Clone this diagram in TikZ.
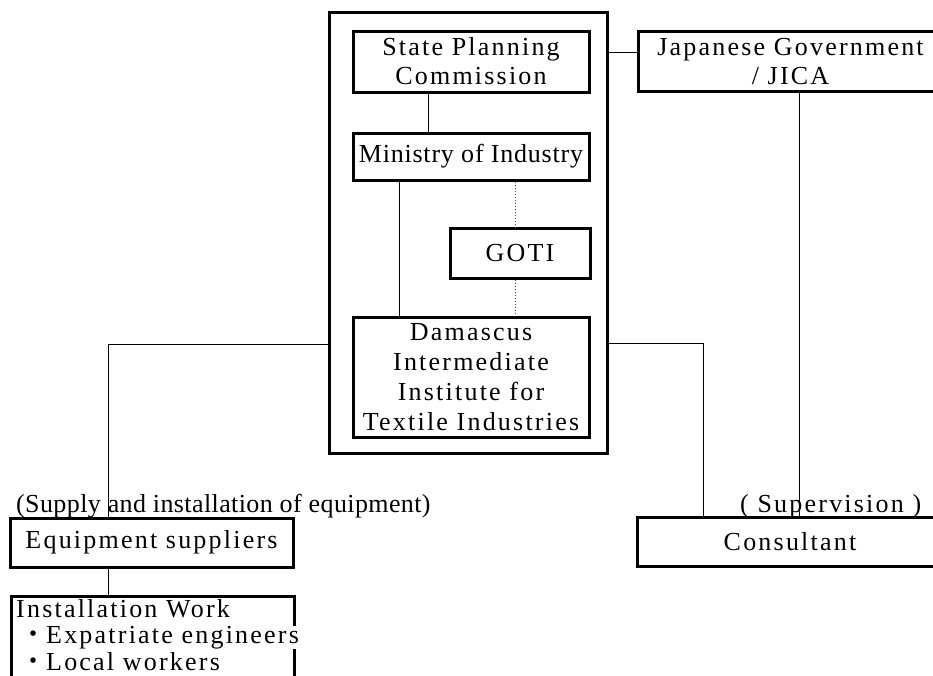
\documentclass[tikz,border=0pt]{standalone}
\usepackage{fontspec}
\setmainfont{Liberation Serif}[LetterSpace=1.5]
\newfontfamily\widefont{Liberation Serif}[LetterSpace=8.5]
\newfontfamily\midfont{Liberation Serif}[LetterSpace=3]
\newfontfamily\cjk{Noto Sans CJK JP}
\usepackage{tikz}
\tikzstyle{box}=[draw, line width=3pt, align=center, inner sep=0pt, font=\fontsize{26}{29}\selectfont\widefont]
\tikzstyle{frame}=[draw, line width=3pt, inner sep=0pt]
\tikzstyle{note}=[inner sep=0pt, font=\fontsize{26}{29}\selectfont]
\tikzstyle{widenote}=[inner sep=0pt, font=\fontsize{26}{29}\selectfont\widefont]
\tikzstyle{link}=[draw=black, line width=1pt]
\tikzstyle{dotlink}=[draw=black!70, line width=1pt, dotted]

\begin{document}
\begin{tikzpicture}[x=1pt, y=-1pt]
		\useasboundingbox (0,0) rectangle (933,675);
		\begin{scope}
			\node (syria) at (468, 232.5)[frame, minimum width=278, minimum height=441] {};
			\node (spc) at (471, 61.5)[box, minimum width=236, minimum height=61] {State Planning\\Commission};
			\node (moi) at (471, 156.5)[box, minimum width=236, minimum height=47, font=\fontsize{26}{29}\selectfont\midfont] {Ministry of Industry};
			\node (goti) at (520, 253.5)[box, minimum width=140, minimum height=50] {GOTI};
			\node (diitt) at (471, 377.5)[box, minimum width=236, minimum height=120, font=\fontsize{26}{30}\selectfont\widefont] {Damascus\\Intermediate\\Institute for\\Textile Industries};
			\node (jica) at (790.5, 61.5)[box, minimum width=305, minimum height=60] {Japanese Government\\/ JICA};
			\node (eqsup) at (151.5, 542.5)[box, minimum width=283, minimum height=49] {Equipment suppliers};
			\node (cons) at (790, 541.5)[box, minimum width=306, minimum height=49] {Consultant};
			\node (inst) at (10, 595)[frame, anchor=north west, minimum width=283, minimum height=100] {};
			\node (inst1) at (16, 617)[widenote, anchor=base west] {Installation Work};
			\node (inst2) at (20, 643)[widenote, anchor=base west, fill=white] {{\cjk ・}Expatriate engineers};
			\node (inst3) at (20, 670)[widenote, anchor=base west] {{\cjk ・}Local workers};
			\node (supply) at (16, 512)[note, anchor=base west] {(Supply and installation of equipment)};
			\node (superv) at (740, 512)[widenote, anchor=base west] {( Supervision )};
		\end{scope}
		\begin{scope}
			\coordinate (cj) at (607, 52);
			\coordinate (cl) at (329, 344);
			\coordinate (cr) at (607, 343);
			\path [link] (cj) -- (cj -| jica.west);
			\path [link] ([xshift=-43]spc.south) -- ([xshift=-43]spc.south |- moi.north);
			\path [link] ([xshift=-72]moi.south) -- ([xshift=-72]moi.south |- diitt.north);
			\path [dotlink] ([xshift=44]moi.south) -- ([xshift=44]moi.south |- goti.north);
			\path [dotlink] ([xshift=-5]goti.south) -- ([xshift=-5]goti.south |- diitt.north);
			\path [link] ([xshift=9]jica.south) -- ([xshift=9]jica.south |- cons.north);
			\path [link] (cl) -| ([xshift=-43.5]eqsup.north);
			\path [link] (cr) -| ([xshift=-87]cons.north);
			\path [link] ([xshift=-43.5]eqsup.south) -- ([xshift=-43.5]eqsup.south |- inst.north);
		\end{scope}
\end{tikzpicture}
\end{document}
